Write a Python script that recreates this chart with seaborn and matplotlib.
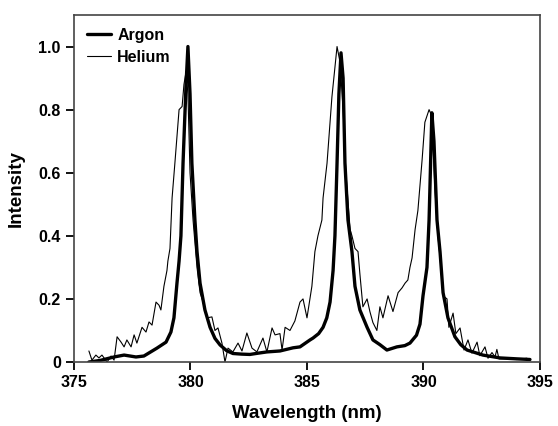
import numpy as np
import pandas as pd
import matplotlib
matplotlib.use("Agg")
import matplotlib.pyplot as plt
import seaborn as sns

# widmo argonu (gruba linia)
argon_wl = [375.64, 376.12, 376.72, 377.15, 377.66, 378.00, 378.56, 378.95, 379.16, 379.29,
            379.42, 379.51, 379.59, 379.68, 379.81, 379.89, 379.98, 380.06, 380.19, 380.28,
            380.41, 380.62, 380.84, 381.05, 381.27, 381.55, 381.82, 382.2, 382.55, 382.9,
            383.28, 383.84, 384.40, 384.70, 385.13, 385.26, 385.50, 385.69, 385.85, 385.99,
            386.12, 386.20, 386.29, 386.37, 386.46, 386.55, 386.63, 386.76, 386.93, 387.06,
            387.27, 387.58, 387.83, 388.13, 388.43, 388.86, 389.20, 389.42, 389.70, 389.85,
            389.98, 390.15, 390.24, 390.28, 390.36, 390.45, 390.58, 390.71, 390.84, 391.05,
            391.35, 391.60, 391.87, 392.55, 393.28, 394.01, 394.57]
argon_int = [0.0, 0.005, 0.016, 0.022, 0.016, 0.019, 0.044, 0.063, 0.095, 0.14,
             0.25, 0.32, 0.40, 0.63, 0.88, 1.0, 0.85, 0.63, 0.45, 0.35,
             0.25, 0.165, 0.11, 0.075, 0.054, 0.036, 0.027, 0.025, 0.024, 0.028,
             0.032, 0.035, 0.045, 0.048, 0.07, 0.076, 0.09, 0.11, 0.14, 0.19,
             0.29, 0.40, 0.63, 0.85, 0.98, 0.90, 0.63, 0.45, 0.35, 0.24,
             0.165, 0.11, 0.07, 0.055, 0.038, 0.048, 0.052, 0.06, 0.085, 0.12,
             0.21, 0.30, 0.45, 0.56, 0.79, 0.70, 0.45, 0.35, 0.22, 0.14,
             0.08, 0.055, 0.038, 0.022, 0.013, 0.01, 0.008]

# widmo helu (cienka linia)
helium_wl = [375.64, 375.77, 375.94, 376.07, 376.20, 376.42, 376.59, 376.72, 376.85, 377.02,
             377.15, 377.27, 377.45, 377.58, 377.70, 377.92, 378.09, 378.22, 378.35, 378.52,
             378.65, 378.73, 378.86, 378.99, 379.03, 379.12, 379.21, 379.33, 379.51, 379.64,
             379.72, 379.81, 379.89, 379.98, 380.11, 380.28, 380.41, 380.54, 380.71, 380.92,
             381.05, 381.18, 381.35, 381.48, 381.61, 381.82, 382.04, 382.21, 382.42, 382.64,
             382.85, 383.11, 383.28, 383.50, 383.63, 383.84, 383.93, 384.06, 384.27, 384.48,
             384.70, 384.83, 385.00, 385.21, 385.34, 385.47, 385.64, 385.69, 385.86, 386.07,
             386.29, 386.42, 386.55, 386.67, 386.85, 386.93, 387.06, 387.19, 387.27, 387.40,
             387.58, 387.70, 387.83, 388.00, 388.13, 388.26, 388.48, 388.69, 388.91, 389.08,
             389.21, 389.33, 389.42, 389.51, 389.64, 389.76, 389.94, 390.06, 390.24, 390.36,
             390.49, 390.62, 390.75, 390.84, 391.01, 391.09, 391.27, 391.39, 391.57, 391.74,
             391.91, 392.08, 392.30, 392.42, 392.64, 392.77, 392.94, 393.07, 393.15, 393.24,
             393.58, 394.01, 394.44]
helium_int = [0.035, 0.006, 0.022, 0.013, 0.022, 0.0, 0.019, 0.006, 0.08, 0.063,
              0.048, 0.07, 0.048, 0.086, 0.06, 0.11, 0.095, 0.127, 0.117, 0.19,
              0.18, 0.165, 0.24, 0.29, 0.32, 0.36, 0.52, 0.63, 0.80, 0.81,
              0.88, 0.92, 0.85, 0.60, 0.45, 0.30, 0.22, 0.19, 0.14, 0.143,
              0.10, 0.108, 0.06, 0.0, 0.044, 0.032, 0.06, 0.035, 0.092, 0.044,
              0.032, 0.076, 0.032, 0.108, 0.086, 0.09, 0.038, 0.11, 0.10, 0.13,
              0.19, 0.20, 0.14, 0.24, 0.35, 0.40, 0.45, 0.52, 0.63, 0.84,
              1.0, 0.95, 0.80, 0.60, 0.42, 0.40, 0.36, 0.35, 0.28, 0.175,
              0.20, 0.16, 0.125, 0.10, 0.175, 0.14, 0.21, 0.16, 0.22, 0.235,
              0.25, 0.26, 0.30, 0.33, 0.42, 0.48, 0.64, 0.76, 0.80, 0.78,
              0.55, 0.40, 0.30, 0.21, 0.20, 0.11, 0.155, 0.09, 0.108, 0.038,
              0.07, 0.028, 0.063, 0.02, 0.048, 0.012, 0.03, 0.016, 0.04, 0.01,
              0.01, 0.008, 0.012]

x_ticks = [375, 380, 385, 390, 395]
y_ticks = [0, 0.2, 0.4, 0.6, 0.8, 1.0]
y_tick_labels = ["0", "0.2", "0.4", "0.6", "0.8", "1.0"]

argon = pd.DataFrame({"wl": argon_wl, "intensity": argon_int})
helium = pd.DataFrame({"wl": helium_wl, "intensity": helium_int})

sns.set_style("ticks")
plt.rcParams["font.family"] = ["Liberation Sans", "DejaVu Sans"]
plt.rcParams["font.weight"] = "bold"
plt.rcParams["text.color"] = "black"
plt.rcParams["axes.labelcolor"] = "black"

fig = plt.figure(figsize=(5.58, 4.26), dpi=100)
ax = fig.add_axes([0.1326, 0.1502, 0.8351, 0.8146])

sns.lineplot(data=argon, x="wl", y="intensity", ax=ax, color="black", linewidth=2.4,
             sort=False, estimator=None, label="Argon")
sns.lineplot(data=helium, x="wl", y="intensity", ax=ax, color="black", linewidth=0.8,
             sort=False, estimator=None, label="Helium")

ax.set_xlim(375, 395)
ax.set_ylim(0, 1.1)
ax.set_xticks(x_ticks)
ax.set_yticks(y_ticks)
ax.set_yticklabels(y_tick_labels)
ax.tick_params(axis="both", direction="out", length=6, width=1.3, labelsize=11.5, colors="black")
for lbl in ax.get_xticklabels() + ax.get_yticklabels():
    lbl.set_fontweight("bold")

for side in ["left", "right", "top", "bottom"]:
    ax.spines[side].set_visible(True)
    ax.spines[side].set_color("#444444")
    ax.spines[side].set_linewidth(1.2)

ax.set_xlabel("Wavelength (nm)", fontsize=13.5, fontweight="bold", labelpad=11, color="black")
ax.set_ylabel("Intensity", fontsize=13.5, fontweight="bold", labelpad=10, color="black")

leg = ax.legend(loc="upper left", frameon=False, fontsize=11.5, handlelength=1.5,
                handletextpad=0.4, labelspacing=0.45, borderaxespad=0.4)
for t in leg.get_texts():
    t.set_fontweight("bold")
    t.set_color("black")

fig.savefig("out.png", dpi=100)
